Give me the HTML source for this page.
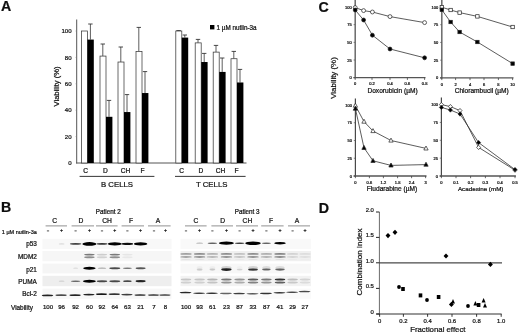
<!DOCTYPE html>
<html>
<head>
<meta charset="utf-8">
<title>Figure</title>
<style>
html, body { margin: 0; padding: 0; background: #ffffff; }
body { width: 520px; height: 335px; overflow: hidden; font-family: "Liberation Sans", sans-serif; }
svg { display: block; }
svg text { font-family: "Liberation Sans", sans-serif; fill: #111; stroke: #111; stroke-width: 0.22px; }
</style>
</head>
<body>
<svg width="520" height="335" viewBox="0 0 520 335">
<defs>
<filter id="bl" x="-30%" y="-100%" width="160%" height="300%"><feGaussianBlur stdDeviation="0.55"/></filter>
<filter id="bl2" x="-40%" y="-150%" width="180%" height="400%"><feGaussianBlur stdDeviation="0.65"/></filter>
<filter id="soft" x="0" y="0" width="520" height="335" filterUnits="userSpaceOnUse"><feGaussianBlur stdDeviation="0.35"/></filter>
</defs>
<rect x="0" y="0" width="520" height="335" fill="#ffffff"/>
<g filter="url(#soft)">
<g id="panelA">
<text x="0.9" y="11.0" font-size="14.2" text-anchor="start" font-weight="bold" stroke-width="0.45">A</text>
<line x1="76.7" y1="19.5" x2="76.7" y2="163.5" stroke="#444" stroke-width="0.9"/>
<line x1="76.2" y1="163.0" x2="246.5" y2="163.0" stroke="#444" stroke-width="0.9"/>
<line x1="75.6" y1="136.6" x2="76.7" y2="136.6" stroke="#777" stroke-width="0.6"/>
<line x1="75.6" y1="110.2" x2="76.7" y2="110.2" stroke="#777" stroke-width="0.6"/>
<line x1="75.6" y1="83.8" x2="76.7" y2="83.8" stroke="#777" stroke-width="0.6"/>
<line x1="75.6" y1="57.4" x2="76.7" y2="57.4" stroke="#777" stroke-width="0.6"/>
<line x1="75.6" y1="31.0" x2="76.7" y2="31.0" stroke="#777" stroke-width="0.6"/>
<text x="71.6" y="165.2" font-size="6.1" text-anchor="end" font-weight="normal" >0</text>
<text x="71.6" y="138.8" font-size="6.1" text-anchor="end" font-weight="normal" >20</text>
<text x="71.6" y="112.4" font-size="6.1" text-anchor="end" font-weight="normal" >40</text>
<text x="71.6" y="86.0" font-size="6.1" text-anchor="end" font-weight="normal" >60</text>
<text x="71.6" y="59.6" font-size="6.1" text-anchor="end" font-weight="normal" >80</text>
<text x="71.6" y="33.2" font-size="6.1" text-anchor="end" font-weight="normal" >100</text>
<text transform="translate(59,86.5) rotate(-90)" font-size="7.6" text-anchor="middle">Viability (%)</text>
<line x1="90.4" y1="24.0" x2="90.4" y2="39.58" stroke="#333" stroke-width="0.8"/>
<line x1="88.2" y1="24.0" x2="92.6" y2="24.0" stroke="#333" stroke-width="0.9"/>
<rect x="81.4" y="31.0" width="6.0" height="132.0" fill="#fff" stroke="#383838" stroke-width="0.75"/>
<rect x="87.4" y="39.58" width="6.4" height="123.42" fill="#000"/>
<line x1="102.8" y1="44.0" x2="102.8" y2="56.08" stroke="#333" stroke-width="0.8"/>
<line x1="100.6" y1="44.0" x2="105.0" y2="44.0" stroke="#333" stroke-width="0.9"/>
<line x1="109.0" y1="100.4" x2="109.0" y2="116.8" stroke="#333" stroke-width="0.8"/>
<line x1="106.8" y1="100.4" x2="111.2" y2="100.4" stroke="#333" stroke-width="0.9"/>
<rect x="100.0" y="56.08" width="6.0" height="106.92" fill="#fff" stroke="#383838" stroke-width="0.75"/>
<rect x="106.0" y="116.8" width="6.4" height="46.2" fill="#000"/>
<line x1="120.8" y1="47.0" x2="120.8" y2="62.02" stroke="#333" stroke-width="0.8"/>
<line x1="118.6" y1="47.0" x2="123.0" y2="47.0" stroke="#333" stroke-width="0.9"/>
<line x1="127.0" y1="94.6" x2="127.0" y2="112.05" stroke="#333" stroke-width="0.8"/>
<line x1="124.8" y1="94.6" x2="129.2" y2="94.6" stroke="#333" stroke-width="0.9"/>
<rect x="118.0" y="62.02" width="6.0" height="100.98" fill="#fff" stroke="#383838" stroke-width="0.75"/>
<rect x="124.0" y="112.05" width="6.4" height="50.95" fill="#000"/>
<line x1="138.8" y1="27.4" x2="138.8" y2="51.46" stroke="#333" stroke-width="0.8"/>
<line x1="136.6" y1="27.4" x2="141" y2="27.4" stroke="#333" stroke-width="0.9"/>
<line x1="145.0" y1="71.6" x2="145.0" y2="93.04" stroke="#333" stroke-width="0.8"/>
<line x1="142.8" y1="71.6" x2="147.2" y2="71.6" stroke="#333" stroke-width="0.9"/>
<rect x="136.0" y="51.46" width="6.0" height="111.54" fill="#fff" stroke="#383838" stroke-width="0.75"/>
<rect x="142.0" y="93.04" width="6.4" height="69.96" fill="#000"/>
<line x1="178.6" y1="30.6" x2="178.6" y2="31.0" stroke="#333" stroke-width="0.8"/>
<line x1="176.4" y1="30.6" x2="180.8" y2="30.6" stroke="#333" stroke-width="0.9"/>
<line x1="184.8" y1="35.0" x2="184.8" y2="37.6" stroke="#333" stroke-width="0.8"/>
<line x1="182.6" y1="35.0" x2="187.0" y2="35.0" stroke="#333" stroke-width="0.9"/>
<rect x="175.8" y="31.0" width="6.0" height="132.0" fill="#fff" stroke="#383838" stroke-width="0.75"/>
<rect x="181.8" y="37.6" width="6.4" height="125.4" fill="#000"/>
<line x1="198.0" y1="39.4" x2="198.0" y2="42.88" stroke="#333" stroke-width="0.8"/>
<line x1="195.8" y1="39.4" x2="200.2" y2="39.4" stroke="#333" stroke-width="0.9"/>
<line x1="204.2" y1="53.4" x2="204.2" y2="62.02" stroke="#333" stroke-width="0.8"/>
<line x1="202" y1="53.4" x2="206.4" y2="53.4" stroke="#333" stroke-width="0.9"/>
<rect x="195.2" y="42.88" width="6.0" height="120.12" fill="#fff" stroke="#383838" stroke-width="0.75"/>
<rect x="201.2" y="62.02" width="6.4" height="100.98" fill="#000"/>
<line x1="216.0" y1="45.4" x2="216.0" y2="52.12" stroke="#333" stroke-width="0.8"/>
<line x1="213.8" y1="45.4" x2="218.2" y2="45.4" stroke="#333" stroke-width="0.9"/>
<line x1="222.2" y1="58.0" x2="222.2" y2="71.92" stroke="#333" stroke-width="0.8"/>
<line x1="220" y1="58.0" x2="224.4" y2="58.0" stroke="#333" stroke-width="0.9"/>
<rect x="213.2" y="52.12" width="6.0" height="110.88" fill="#fff" stroke="#383838" stroke-width="0.75"/>
<rect x="219.2" y="71.92" width="6.4" height="91.08" fill="#000"/>
<line x1="233.8" y1="51.4" x2="233.8" y2="58.72" stroke="#333" stroke-width="0.8"/>
<line x1="231.6" y1="51.4" x2="236" y2="51.4" stroke="#333" stroke-width="0.9"/>
<line x1="240.0" y1="69.4" x2="240.0" y2="82.48" stroke="#333" stroke-width="0.8"/>
<line x1="237.8" y1="69.4" x2="242.2" y2="69.4" stroke="#333" stroke-width="0.9"/>
<rect x="231.0" y="58.72" width="6.0" height="104.28" fill="#fff" stroke="#383838" stroke-width="0.75"/>
<rect x="237.0" y="82.48" width="6.4" height="80.52" fill="#000"/>
<text x="85.6" y="173.2" font-size="6.6" text-anchor="middle" font-weight="normal" >C</text>
<text x="105.4" y="173.2" font-size="6.6" text-anchor="middle" font-weight="normal" >D</text>
<text x="125.4" y="173.2" font-size="6.6" text-anchor="middle" font-weight="normal" >CH</text>
<text x="142.6" y="173.2" font-size="6.6" text-anchor="middle" font-weight="normal" >F</text>
<text x="181.6" y="173.2" font-size="6.6" text-anchor="middle" font-weight="normal" >C</text>
<text x="201" y="173.2" font-size="6.6" text-anchor="middle" font-weight="normal" >D</text>
<text x="220.6" y="173.2" font-size="6.6" text-anchor="middle" font-weight="normal" >CH</text>
<text x="236.6" y="173.2" font-size="6.6" text-anchor="middle" font-weight="normal" >F</text>
<line x1="79.6" y1="176.4" x2="154.4" y2="176.4" stroke="#222" stroke-width="0.9"/>
<line x1="175" y1="176.4" x2="245.6" y2="176.4" stroke="#222" stroke-width="0.9"/>
<text x="117" y="187.2" font-size="7.8" text-anchor="middle" font-weight="normal" stroke-width="0.35">B CELLS</text>
<text x="211.7" y="187.2" font-size="7.8" text-anchor="middle" font-weight="normal" stroke-width="0.35">T CELLS</text>
<rect x="210" y="25" width="4.4" height="4.4" fill="#000"/>
<text x="216.6" y="29.9" font-size="6.3" text-anchor="start" font-weight="normal" >1 µM nutlin-3a</text>
</g>
<g id="panelC">
<text x="318.4" y="11.5" font-size="14.2" text-anchor="start" font-weight="bold" stroke-width="0.45">C</text>
<text transform="translate(335.7,78) rotate(-90)" font-size="7.9" text-anchor="middle">Viability (%)</text>
<line x1="355.2" y1="0" x2="355.2" y2="78.3" stroke="#6a6a6a" stroke-width="1.5"/>
<line x1="353.4" y1="77.7" x2="425.5" y2="77.7" stroke="#555" stroke-width="1.3"/>
<line x1="353.6" y1="77.7" x2="355.2" y2="77.7" stroke="#555" stroke-width="0.7"/>
<text x="351.7" y="79.2" font-size="4.0" text-anchor="end" font-weight="normal" fill="#3a3a3a" stroke="none">0</text>
<line x1="353.6" y1="60.03" x2="355.2" y2="60.03" stroke="#555" stroke-width="0.7"/>
<text x="351.7" y="61.53" font-size="4.0" text-anchor="end" font-weight="normal" fill="#3a3a3a" stroke="none">25</text>
<line x1="353.6" y1="42.35" x2="355.2" y2="42.35" stroke="#555" stroke-width="0.7"/>
<text x="351.7" y="43.85" font-size="4.0" text-anchor="end" font-weight="normal" fill="#3a3a3a" stroke="none">50</text>
<line x1="353.6" y1="24.67" x2="355.2" y2="24.67" stroke="#555" stroke-width="0.7"/>
<text x="351.7" y="26.17" font-size="4.0" text-anchor="end" font-weight="normal" fill="#3a3a3a" stroke="none">75</text>
<line x1="353.6" y1="7.0" x2="355.2" y2="7.0" stroke="#555" stroke-width="0.7"/>
<text x="351.7" y="8.5" font-size="4.0" text-anchor="end" font-weight="normal" fill="#3a3a3a" stroke="none">100</text>
<line x1="355.2" y1="77.7" x2="355.2" y2="79.9" stroke="#444" stroke-width="0.8"/>
<text x="355.2" y="85.3" font-size="4.0" text-anchor="middle" font-weight="normal" fill="#3a3a3a" stroke="none">0</text>
<line x1="372" y1="77.7" x2="372" y2="79.9" stroke="#444" stroke-width="0.8"/>
<text x="372" y="85.3" font-size="4.0" text-anchor="middle" font-weight="normal" fill="#3a3a3a" stroke="none">0.2</text>
<line x1="390" y1="77.7" x2="390" y2="79.9" stroke="#444" stroke-width="0.8"/>
<text x="390" y="85.3" font-size="4.0" text-anchor="middle" font-weight="normal" fill="#3a3a3a" stroke="none">0.4</text>
<line x1="407.4" y1="77.7" x2="407.4" y2="79.9" stroke="#444" stroke-width="0.8"/>
<text x="407.4" y="85.3" font-size="4.0" text-anchor="middle" font-weight="normal" fill="#3a3a3a" stroke="none">0.6</text>
<line x1="424.6" y1="77.7" x2="424.6" y2="79.9" stroke="#444" stroke-width="0.8"/>
<text x="424.6" y="85.3" font-size="4.0" text-anchor="middle" font-weight="normal" fill="#3a3a3a" stroke="none">0.8</text>
<text x="392.6" y="93.1" font-size="6.6" text-anchor="middle" font-weight="normal" >Doxorubicin (µM)</text>
<path d="M355.2,7.6 L363.6,10.6 L372.4,12 L390,16.6 L424.6,22.6" fill="none" stroke="#333" stroke-width="0.8"/>
<path d="M355.2,10 L363.6,20 L372.4,35.2 L390,49 L424.6,57.8" fill="none" stroke="#333" stroke-width="0.8"/>
<circle cx="355.2" cy="7.6" r="1.95" fill="#fff" stroke="#222" stroke-width="0.7"/>
<circle cx="363.6" cy="10.6" r="1.95" fill="#fff" stroke="#222" stroke-width="0.7"/>
<circle cx="372.4" cy="12" r="1.95" fill="#fff" stroke="#222" stroke-width="0.7"/>
<circle cx="390" cy="16.6" r="1.95" fill="#fff" stroke="#222" stroke-width="0.7"/>
<circle cx="424.6" cy="22.6" r="1.95" fill="#fff" stroke="#222" stroke-width="0.7"/>
<circle cx="355.2" cy="10" r="1.95" fill="#000" stroke="#222" stroke-width="0.7"/>
<circle cx="363.6" cy="20" r="1.95" fill="#000" stroke="#222" stroke-width="0.7"/>
<circle cx="372.4" cy="35.2" r="1.95" fill="#000" stroke="#222" stroke-width="0.7"/>
<circle cx="390" cy="49" r="1.95" fill="#000" stroke="#222" stroke-width="0.7"/>
<circle cx="424.6" cy="57.8" r="1.95" fill="#000" stroke="#222" stroke-width="0.7"/>
<line x1="441.8" y1="0" x2="441.8" y2="78.5" stroke="#6a6a6a" stroke-width="1.5"/>
<line x1="440.0" y1="77.9" x2="513.5" y2="77.9" stroke="#555" stroke-width="1.3"/>
<line x1="440.2" y1="77.9" x2="441.8" y2="77.9" stroke="#555" stroke-width="0.7"/>
<text x="438.3" y="79.4" font-size="4.0" text-anchor="end" font-weight="normal" fill="#3a3a3a" stroke="none">0</text>
<line x1="440.2" y1="60.18" x2="441.8" y2="60.18" stroke="#555" stroke-width="0.7"/>
<text x="438.3" y="61.68" font-size="4.0" text-anchor="end" font-weight="normal" fill="#3a3a3a" stroke="none">25</text>
<line x1="440.2" y1="42.45" x2="441.8" y2="42.45" stroke="#555" stroke-width="0.7"/>
<text x="438.3" y="43.95" font-size="4.0" text-anchor="end" font-weight="normal" fill="#3a3a3a" stroke="none">50</text>
<line x1="440.2" y1="24.73" x2="441.8" y2="24.73" stroke="#555" stroke-width="0.7"/>
<text x="438.3" y="26.23" font-size="4.0" text-anchor="end" font-weight="normal" fill="#3a3a3a" stroke="none">75</text>
<line x1="440.2" y1="7.0" x2="441.8" y2="7.0" stroke="#555" stroke-width="0.7"/>
<text x="438.3" y="8.5" font-size="4.0" text-anchor="end" font-weight="normal" fill="#3a3a3a" stroke="none">100</text>
<line x1="441.8" y1="77.9" x2="441.8" y2="80.1" stroke="#444" stroke-width="0.8"/>
<text x="441.8" y="85.5" font-size="4.0" text-anchor="middle" font-weight="normal" fill="#3a3a3a" stroke="none">0</text>
<line x1="455.6" y1="77.9" x2="455.6" y2="80.1" stroke="#444" stroke-width="0.8"/>
<text x="455.6" y="85.5" font-size="4.0" text-anchor="middle" font-weight="normal" fill="#3a3a3a" stroke="none">2</text>
<line x1="470" y1="77.9" x2="470" y2="80.1" stroke="#444" stroke-width="0.8"/>
<text x="470" y="85.5" font-size="4.0" text-anchor="middle" font-weight="normal" fill="#3a3a3a" stroke="none">4</text>
<line x1="484" y1="77.9" x2="484" y2="80.1" stroke="#444" stroke-width="0.8"/>
<text x="484" y="85.5" font-size="4.0" text-anchor="middle" font-weight="normal" fill="#3a3a3a" stroke="none">6</text>
<line x1="498.4" y1="77.9" x2="498.4" y2="80.1" stroke="#444" stroke-width="0.8"/>
<text x="498.4" y="85.5" font-size="4.0" text-anchor="middle" font-weight="normal" fill="#3a3a3a" stroke="none">8</text>
<line x1="512.6" y1="77.9" x2="512.6" y2="80.1" stroke="#444" stroke-width="0.8"/>
<text x="512.6" y="85.5" font-size="4.0" text-anchor="middle" font-weight="normal" fill="#3a3a3a" stroke="none">10</text>
<text x="481.7" y="93.3" font-size="6.6" text-anchor="middle" font-weight="normal" >Chlorambucil (µM)</text>
<path d="M441.8,7.2 L450.6,10 L459.6,12.6 L477.4,16.4 L512.6,27" fill="none" stroke="#333" stroke-width="0.8"/>
<path d="M441.8,9.8 L450.6,22 L459.6,32 L477.4,42 L512.6,63.6" fill="none" stroke="#333" stroke-width="0.8"/>
<rect x="440.1" y="5.5" width="3.4" height="3.4" fill="#fff" stroke="#222" stroke-width="0.7"/>
<rect x="448.9" y="8.3" width="3.4" height="3.4" fill="#fff" stroke="#222" stroke-width="0.7"/>
<rect x="457.9" y="10.9" width="3.4" height="3.4" fill="#fff" stroke="#222" stroke-width="0.7"/>
<rect x="475.7" y="14.7" width="3.4" height="3.4" fill="#fff" stroke="#222" stroke-width="0.7"/>
<rect x="510.9" y="25.3" width="3.4" height="3.4" fill="#fff" stroke="#222" stroke-width="0.7"/>
<rect x="440.1" y="8.1" width="3.4" height="3.4" fill="#000" stroke="#222" stroke-width="0.7"/>
<rect x="448.9" y="20.3" width="3.4" height="3.4" fill="#000" stroke="#222" stroke-width="0.7"/>
<rect x="457.9" y="30.3" width="3.4" height="3.4" fill="#000" stroke="#222" stroke-width="0.7"/>
<rect x="475.7" y="40.3" width="3.4" height="3.4" fill="#000" stroke="#222" stroke-width="0.7"/>
<rect x="510.9" y="61.9" width="3.4" height="3.4" fill="#000" stroke="#222" stroke-width="0.7"/>
<line x1="355.4" y1="98.6" x2="355.4" y2="176.6" stroke="#484848" stroke-width="1.2"/>
<line x1="353.6" y1="176.0" x2="426.5" y2="176.0" stroke="#555" stroke-width="1.3"/>
<line x1="353.8" y1="176.0" x2="355.4" y2="176.0" stroke="#555" stroke-width="0.7"/>
<text x="351.9" y="177.5" font-size="4.0" text-anchor="end" font-weight="normal" fill="#3a3a3a" stroke="none">0</text>
<line x1="353.8" y1="158.25" x2="355.4" y2="158.25" stroke="#555" stroke-width="0.7"/>
<text x="351.9" y="159.75" font-size="4.0" text-anchor="end" font-weight="normal" fill="#3a3a3a" stroke="none">25</text>
<line x1="353.8" y1="140.5" x2="355.4" y2="140.5" stroke="#555" stroke-width="0.7"/>
<text x="351.9" y="142.0" font-size="4.0" text-anchor="end" font-weight="normal" fill="#3a3a3a" stroke="none">50</text>
<line x1="353.8" y1="122.75" x2="355.4" y2="122.75" stroke="#555" stroke-width="0.7"/>
<text x="351.9" y="124.25" font-size="4.0" text-anchor="end" font-weight="normal" fill="#3a3a3a" stroke="none">75</text>
<line x1="353.8" y1="105.0" x2="355.4" y2="105.0" stroke="#555" stroke-width="0.7"/>
<text x="351.9" y="106.5" font-size="4.0" text-anchor="end" font-weight="normal" fill="#3a3a3a" stroke="none">100</text>
<line x1="355.4" y1="176.0" x2="355.4" y2="178.2" stroke="#444" stroke-width="0.8"/>
<text x="355.4" y="183.6" font-size="4.0" text-anchor="middle" font-weight="normal" fill="#3a3a3a" stroke="none">0</text>
<line x1="369.4" y1="176.0" x2="369.4" y2="178.2" stroke="#444" stroke-width="0.8"/>
<text x="369.4" y="183.6" font-size="4.0" text-anchor="middle" font-weight="normal" fill="#3a3a3a" stroke="none">0.6</text>
<line x1="383.4" y1="176.0" x2="383.4" y2="178.2" stroke="#444" stroke-width="0.8"/>
<text x="383.4" y="183.6" font-size="4.0" text-anchor="middle" font-weight="normal" fill="#3a3a3a" stroke="none">1.2</text>
<line x1="397.6" y1="176.0" x2="397.6" y2="178.2" stroke="#444" stroke-width="0.8"/>
<text x="397.6" y="183.6" font-size="4.0" text-anchor="middle" font-weight="normal" fill="#3a3a3a" stroke="none">1.8</text>
<line x1="411.6" y1="176.0" x2="411.6" y2="178.2" stroke="#444" stroke-width="0.8"/>
<text x="411.6" y="183.6" font-size="4.0" text-anchor="middle" font-weight="normal" fill="#3a3a3a" stroke="none">2.4</text>
<line x1="425.6" y1="176.0" x2="425.6" y2="178.2" stroke="#444" stroke-width="0.8"/>
<text x="425.6" y="183.6" font-size="4.0" text-anchor="middle" font-weight="normal" fill="#3a3a3a" stroke="none">3</text>
<text x="392" y="191.4" font-size="6.6" text-anchor="middle" font-weight="normal" >Fludarabine (µM)</text>
<path d="M355.4,105.6 L364,121.6 L373,131 L391,140.5 L426,148.4" fill="none" stroke="#333" stroke-width="0.8"/>
<path d="M355.4,108.6 L364,147.8 L373,160.8 L391,165.4 L426,164.6" fill="none" stroke="#333" stroke-width="0.8"/>
<path d="M355.4,103.2 L357.55,107.2 L353.25,107.2 Z" fill="#fff" stroke="#222" stroke-width="0.7"/>
<path d="M364,119.2 L366.15,123.2 L361.85,123.2 Z" fill="#fff" stroke="#222" stroke-width="0.7"/>
<path d="M373,128.6 L375.15,132.6 L370.85,132.6 Z" fill="#fff" stroke="#222" stroke-width="0.7"/>
<path d="M391,138.1 L393.15,142.1 L388.85,142.1 Z" fill="#fff" stroke="#222" stroke-width="0.7"/>
<path d="M426,146.0 L428.15,150.0 L423.85,150.0 Z" fill="#fff" stroke="#222" stroke-width="0.7"/>
<path d="M355.4,106.2 L357.55,110.2 L353.25,110.2 Z" fill="#000" stroke="#222" stroke-width="0.7"/>
<path d="M364,145.4 L366.15,149.4 L361.85,149.4 Z" fill="#000" stroke="#222" stroke-width="0.7"/>
<path d="M373,158.4 L375.15,162.4 L370.85,162.4 Z" fill="#000" stroke="#222" stroke-width="0.7"/>
<path d="M391,163.0 L393.15,167.0 L388.85,167.0 Z" fill="#000" stroke="#222" stroke-width="0.7"/>
<path d="M426,162.2 L428.15,166.2 L423.85,166.2 Z" fill="#000" stroke="#222" stroke-width="0.7"/>
<line x1="441.4" y1="97.4" x2="441.4" y2="176.6" stroke="#484848" stroke-width="1.2"/>
<line x1="439.6" y1="176.0" x2="515.9" y2="176.0" stroke="#555" stroke-width="1.3"/>
<line x1="439.8" y1="176.0" x2="441.4" y2="176.0" stroke="#555" stroke-width="0.7"/>
<text x="437.9" y="177.5" font-size="4.0" text-anchor="end" font-weight="normal" fill="#3a3a3a" stroke="none">0</text>
<line x1="439.8" y1="158.15" x2="441.4" y2="158.15" stroke="#555" stroke-width="0.7"/>
<text x="437.9" y="159.65" font-size="4.0" text-anchor="end" font-weight="normal" fill="#3a3a3a" stroke="none">25</text>
<line x1="439.8" y1="140.3" x2="441.4" y2="140.3" stroke="#555" stroke-width="0.7"/>
<text x="437.9" y="141.8" font-size="4.0" text-anchor="end" font-weight="normal" fill="#3a3a3a" stroke="none">50</text>
<line x1="439.8" y1="122.45" x2="441.4" y2="122.45" stroke="#555" stroke-width="0.7"/>
<text x="437.9" y="123.95" font-size="4.0" text-anchor="end" font-weight="normal" fill="#3a3a3a" stroke="none">75</text>
<line x1="439.8" y1="104.6" x2="441.4" y2="104.6" stroke="#555" stroke-width="0.7"/>
<text x="437.9" y="106.1" font-size="4.0" text-anchor="end" font-weight="normal" fill="#3a3a3a" stroke="none">100</text>
<line x1="441.4" y1="176.0" x2="441.4" y2="178.2" stroke="#444" stroke-width="0.8"/>
<text x="441.4" y="183.6" font-size="4.0" text-anchor="middle" font-weight="normal" fill="#3a3a3a" stroke="none">0</text>
<line x1="456" y1="176.0" x2="456" y2="178.2" stroke="#444" stroke-width="0.8"/>
<text x="456" y="183.6" font-size="4.0" text-anchor="middle" font-weight="normal" fill="#3a3a3a" stroke="none">0.1</text>
<line x1="470.6" y1="176.0" x2="470.6" y2="178.2" stroke="#444" stroke-width="0.8"/>
<text x="470.6" y="183.6" font-size="4.0" text-anchor="middle" font-weight="normal" fill="#3a3a3a" stroke="none">0.2</text>
<line x1="485.4" y1="176.0" x2="485.4" y2="178.2" stroke="#444" stroke-width="0.8"/>
<text x="485.4" y="183.6" font-size="4.0" text-anchor="middle" font-weight="normal" fill="#3a3a3a" stroke="none">0.3</text>
<line x1="500" y1="176.0" x2="500" y2="178.2" stroke="#444" stroke-width="0.8"/>
<text x="500" y="183.6" font-size="4.0" text-anchor="middle" font-weight="normal" fill="#3a3a3a" stroke="none">0.4</text>
<line x1="515" y1="176.0" x2="515" y2="178.2" stroke="#444" stroke-width="0.8"/>
<text x="515" y="183.6" font-size="4.0" text-anchor="middle" font-weight="normal" fill="#3a3a3a" stroke="none">0.5</text>
<text x="480.7" y="191.4" font-size="6.25" text-anchor="middle" font-weight="normal" >Acadesine (mM)</text>
<path d="M441.4,104.6 L450.4,106.6 L460,110.6 L478.6,147.4 L515,170.2" fill="none" stroke="#333" stroke-width="0.8"/>
<path d="M441.4,107.4 L450.4,110 L460,114 L478.6,142.6 L515,169.6" fill="none" stroke="#333" stroke-width="0.8"/>
<path d="M441.4,102.45 L443.4,104.6 L441.4,106.75 L439.4,104.6 Z" fill="#fff" stroke="#222" stroke-width="0.7"/>
<path d="M450.4,104.45 L452.4,106.6 L450.4,108.75 L448.4,106.6 Z" fill="#fff" stroke="#222" stroke-width="0.7"/>
<path d="M460,108.45 L462.0,110.6 L460,112.75 L458.0,110.6 Z" fill="#fff" stroke="#222" stroke-width="0.7"/>
<path d="M478.6,145.25 L480.6,147.4 L478.6,149.55 L476.6,147.4 Z" fill="#fff" stroke="#222" stroke-width="0.7"/>
<path d="M515,168.05 L517.0,170.2 L515,172.35 L513.0,170.2 Z" fill="#fff" stroke="#222" stroke-width="0.7"/>
<path d="M441.4,105.25 L443.4,107.4 L441.4,109.55 L439.4,107.4 Z" fill="#000" stroke="#222" stroke-width="0.7"/>
<path d="M450.4,107.85 L452.4,110 L450.4,112.15 L448.4,110 Z" fill="#000" stroke="#222" stroke-width="0.7"/>
<path d="M460,111.85 L462.0,114 L460,116.15 L458.0,114 Z" fill="#000" stroke="#222" stroke-width="0.7"/>
<path d="M478.6,140.45 L480.6,142.6 L478.6,144.75 L476.6,142.6 Z" fill="#000" stroke="#222" stroke-width="0.7"/>
<path d="M515,167.45 L517.0,169.6 L515,171.75 L513.0,169.6 Z" fill="#000" stroke="#222" stroke-width="0.7"/>
</g>
<g id="panelD">
<text x="318.8" y="213.4" font-size="14.2" text-anchor="start" font-weight="bold" stroke-width="0.45">D</text>
<line x1="379.4" y1="212" x2="379.4" y2="314.5" stroke="#505050" stroke-width="0.85"/>
<line x1="376.4" y1="314.0" x2="501.6" y2="314.0" stroke="#333" stroke-width="1.2"/>
<line x1="379.4" y1="262.8" x2="502" y2="262.8" stroke="#4a4a4a" stroke-width="1.15"/>
<line x1="376.0" y1="212" x2="379.4" y2="212" stroke="#222" stroke-width="1.0"/>
<text x="373.9" y="211.8" font-size="5.9" text-anchor="end" font-weight="normal" stroke-width="0.32">2.0</text>
<line x1="376.0" y1="237.4" x2="379.4" y2="237.4" stroke="#222" stroke-width="1.0"/>
<text x="373.9" y="237.2" font-size="5.9" text-anchor="end" font-weight="normal" stroke-width="0.32">1.5</text>
<line x1="376.0" y1="262.8" x2="379.4" y2="262.8" stroke="#222" stroke-width="1.0"/>
<text x="373.9" y="262.6" font-size="5.9" text-anchor="end" font-weight="normal" stroke-width="0.32">1.0</text>
<line x1="376.0" y1="288.4" x2="379.4" y2="288.4" stroke="#222" stroke-width="1.0"/>
<text x="373.9" y="288.2" font-size="5.9" text-anchor="end" font-weight="normal" stroke-width="0.32">0.5</text>
<line x1="376.0" y1="314" x2="379.4" y2="314" stroke="#222" stroke-width="1.0"/>
<text x="373.9" y="313.8" font-size="5.9" text-anchor="end" font-weight="normal" stroke-width="0.32">0</text>
<line x1="379.6" y1="314.0" x2="379.6" y2="316.8" stroke="#222" stroke-width="0.9"/>
<text x="379.6" y="322.9" font-size="5.9" text-anchor="middle" font-weight="normal" stroke-width="0.32">0</text>
<line x1="403.4" y1="314.0" x2="403.4" y2="316.8" stroke="#222" stroke-width="0.9"/>
<text x="403.4" y="322.9" font-size="5.9" text-anchor="middle" font-weight="normal" stroke-width="0.32">0.2</text>
<line x1="427.6" y1="314.0" x2="427.6" y2="316.8" stroke="#222" stroke-width="0.9"/>
<text x="427.6" y="322.9" font-size="5.9" text-anchor="middle" font-weight="normal" stroke-width="0.32">0.4</text>
<line x1="452" y1="314.0" x2="452" y2="316.8" stroke="#222" stroke-width="0.9"/>
<text x="452" y="322.9" font-size="5.9" text-anchor="middle" font-weight="normal" stroke-width="0.32">0.6</text>
<line x1="476.6" y1="314.0" x2="476.6" y2="316.8" stroke="#222" stroke-width="0.9"/>
<text x="476.6" y="322.9" font-size="5.9" text-anchor="middle" font-weight="normal" stroke-width="0.32">0.8</text>
<line x1="501.2" y1="314.0" x2="501.2" y2="316.8" stroke="#222" stroke-width="0.9"/>
<text x="501.2" y="322.9" font-size="5.9" text-anchor="middle" font-weight="normal" stroke-width="0.32">1.0</text>
<text x="437.8" y="332.3" font-size="7.8" text-anchor="middle" font-weight="normal" >Fractional effect</text>
<text transform="translate(362.0,262) rotate(-90)" font-size="8.05" text-anchor="middle">Combination Index</text>
<path d="M388,233.0 L390.45,235.6 L388,238.2 L385.55,235.6 Z" fill="#000"/>
<path d="M395,229.7 L397.45,232.3 L395,234.9 L392.55,232.3 Z" fill="#000"/>
<path d="M446,253.4 L448.45,256 L446,258.6 L443.55,256 Z" fill="#000"/>
<path d="M490.4,261.8 L492.85,264.4 L490.4,267.0 L487.95,264.4 Z" fill="#000"/>
<circle cx="399" cy="287" r="1.9" fill="#000"/>
<rect x="401.2" y="287" width="3.6" height="4" fill="#000"/>
<rect x="418.7" y="293.4" width="3.6" height="4" fill="#000"/>
<circle cx="427" cy="300" r="1.9" fill="#000"/>
<rect x="436.8" y="295" width="3.6" height="4" fill="#000"/>
<path d="M451.4,301.8 L453.85,304.4 L451.4,307.0 L448.95,304.4 Z" fill="#000"/>
<path d="M453,299.0 L455,303.6 L451,303.6 Z" fill="#000"/>
<circle cx="468" cy="306" r="1.9" fill="#000"/>
<path d="M475.4,301.0 L477.4,305.6 L473.4,305.6 Z" fill="#000"/>
<rect x="476.8" y="303" width="3.6" height="4" fill="#000"/>
<path d="M483.6,298.0 L485.6,302.6 L481.6,302.6 Z" fill="#000"/>
<path d="M485,303.0 L487,307.6 L483,307.6 Z" fill="#000"/>
</g>
<g id="panelB">
<text x="1.0" y="212.2" font-size="14.2" text-anchor="start" font-weight="bold" stroke-width="0.45">B</text>
<text x="108.3" y="213.7" font-size="6.3" text-anchor="middle" font-weight="normal" >Patient 2</text>
<text x="247.2" y="213.7" font-size="6.3" text-anchor="middle" font-weight="normal" >Patient 3</text>
<text x="1.8" y="233.8" font-size="5.5" text-anchor="start" font-weight="normal" >1 µM nutlin-3a</text>
<text x="36.8" y="246.4" font-size="6.4" text-anchor="end" font-weight="normal" >p53</text>
<text x="36.8" y="258.8" font-size="6.4" text-anchor="end" font-weight="normal" >MDM2</text>
<text x="36.8" y="271.6" font-size="6.4" text-anchor="end" font-weight="normal" >p21</text>
<text x="36.8" y="283.6" font-size="6.4" text-anchor="end" font-weight="normal" >PUMA</text>
<text x="36.8" y="295.8" font-size="6.4" text-anchor="end" font-weight="normal" >Bcl-2</text>
<text x="11" y="309.6" font-size="6.4" text-anchor="start" font-weight="normal" >Viability</text>
<text x="48" y="309.3" font-size="6.1" text-anchor="middle" font-weight="normal" >100</text>
<line x1="46.9" y1="230.9" x2="49.1" y2="230.9" stroke="#222" stroke-width="0.8"/>
<text x="61.6" y="309.3" font-size="6.1" text-anchor="middle" font-weight="normal" >96</text>
<text x="61.6" y="231.9" font-size="5.2" text-anchor="middle" font-weight="normal" >+</text>
<text x="75.6" y="309.3" font-size="6.1" text-anchor="middle" font-weight="normal" >92</text>
<line x1="74.5" y1="230.9" x2="76.7" y2="230.9" stroke="#222" stroke-width="0.8"/>
<text x="89.4" y="309.3" font-size="6.1" text-anchor="middle" font-weight="normal" >60</text>
<text x="89.4" y="231.9" font-size="5.2" text-anchor="middle" font-weight="normal" >+</text>
<text x="102" y="309.3" font-size="6.1" text-anchor="middle" font-weight="normal" >92</text>
<line x1="100.9" y1="230.9" x2="103.1" y2="230.9" stroke="#222" stroke-width="0.8"/>
<text x="114.8" y="309.3" font-size="6.1" text-anchor="middle" font-weight="normal" >64</text>
<text x="114.8" y="231.9" font-size="5.2" text-anchor="middle" font-weight="normal" >+</text>
<text x="127.4" y="309.3" font-size="6.1" text-anchor="middle" font-weight="normal" >63</text>
<line x1="126.3" y1="230.9" x2="128.5" y2="230.9" stroke="#222" stroke-width="0.8"/>
<text x="140.6" y="309.3" font-size="6.1" text-anchor="middle" font-weight="normal" >21</text>
<text x="140.6" y="231.9" font-size="5.2" text-anchor="middle" font-weight="normal" >+</text>
<text x="154" y="309.3" font-size="6.1" text-anchor="middle" font-weight="normal" >7</text>
<line x1="152.9" y1="230.9" x2="155.1" y2="230.9" stroke="#222" stroke-width="0.8"/>
<text x="165.4" y="309.3" font-size="6.1" text-anchor="middle" font-weight="normal" >8</text>
<text x="165.4" y="231.9" font-size="5.2" text-anchor="middle" font-weight="normal" >+</text>
<text x="186" y="309.3" font-size="6.1" text-anchor="middle" font-weight="normal" >100</text>
<line x1="184.9" y1="230.9" x2="187.1" y2="230.9" stroke="#222" stroke-width="0.8"/>
<text x="199.6" y="309.3" font-size="6.1" text-anchor="middle" font-weight="normal" >93</text>
<text x="199.6" y="231.9" font-size="5.2" text-anchor="middle" font-weight="normal" >+</text>
<text x="212.4" y="309.3" font-size="6.1" text-anchor="middle" font-weight="normal" >61</text>
<line x1="211.3" y1="230.9" x2="213.5" y2="230.9" stroke="#222" stroke-width="0.8"/>
<text x="226.4" y="309.3" font-size="6.1" text-anchor="middle" font-weight="normal" >23</text>
<text x="226.4" y="231.9" font-size="5.2" text-anchor="middle" font-weight="normal" >+</text>
<text x="239.6" y="309.3" font-size="6.1" text-anchor="middle" font-weight="normal" >87</text>
<line x1="238.5" y1="230.9" x2="240.7" y2="230.9" stroke="#222" stroke-width="0.8"/>
<text x="253" y="309.3" font-size="6.1" text-anchor="middle" font-weight="normal" >33</text>
<text x="253" y="231.9" font-size="5.2" text-anchor="middle" font-weight="normal" >+</text>
<text x="266.4" y="309.3" font-size="6.1" text-anchor="middle" font-weight="normal" >87</text>
<line x1="265.3" y1="230.9" x2="267.5" y2="230.9" stroke="#222" stroke-width="0.8"/>
<text x="280" y="309.3" font-size="6.1" text-anchor="middle" font-weight="normal" >41</text>
<text x="280" y="231.9" font-size="5.2" text-anchor="middle" font-weight="normal" >+</text>
<text x="292.6" y="309.3" font-size="6.1" text-anchor="middle" font-weight="normal" >29</text>
<line x1="291.5" y1="230.9" x2="293.7" y2="230.9" stroke="#222" stroke-width="0.8"/>
<text x="305" y="309.3" font-size="6.1" text-anchor="middle" font-weight="normal" >27</text>
<text x="305" y="231.9" font-size="5.2" text-anchor="middle" font-weight="normal" >+</text>
<text x="54.6" y="223.1" font-size="6.7" text-anchor="middle" font-weight="normal" >C</text>
<text x="81" y="223.1" font-size="6.7" text-anchor="middle" font-weight="normal" >D</text>
<text x="107" y="223.1" font-size="6.7" text-anchor="middle" font-weight="normal" >CH</text>
<text x="131" y="223.1" font-size="6.7" text-anchor="middle" font-weight="normal" >F</text>
<text x="158" y="223.1" font-size="6.7" text-anchor="middle" font-weight="normal" >A</text>
<text x="196" y="223.1" font-size="6.7" text-anchor="middle" font-weight="normal" >C</text>
<text x="222.6" y="223.1" font-size="6.7" text-anchor="middle" font-weight="normal" >D</text>
<text x="247.4" y="223.1" font-size="6.7" text-anchor="middle" font-weight="normal" >CH</text>
<text x="271" y="223.1" font-size="6.7" text-anchor="middle" font-weight="normal" >F</text>
<text x="297" y="223.1" font-size="6.7" text-anchor="middle" font-weight="normal" >A</text>
<line x1="45.6" y1="225.9" x2="67" y2="225.9" stroke="#555" stroke-width="0.65"/>
<line x1="71.6" y1="225.9" x2="94" y2="225.9" stroke="#555" stroke-width="0.65"/>
<line x1="96" y1="225.9" x2="117.6" y2="225.9" stroke="#555" stroke-width="0.65"/>
<line x1="121.6" y1="225.9" x2="144" y2="225.9" stroke="#555" stroke-width="0.65"/>
<line x1="148" y1="225.9" x2="170.6" y2="225.9" stroke="#555" stroke-width="0.65"/>
<line x1="185" y1="225.9" x2="206.6" y2="225.9" stroke="#555" stroke-width="0.65"/>
<line x1="211.4" y1="225.9" x2="233" y2="225.9" stroke="#555" stroke-width="0.65"/>
<line x1="236" y1="225.9" x2="258" y2="225.9" stroke="#555" stroke-width="0.65"/>
<line x1="261.2" y1="225.9" x2="283.6" y2="225.9" stroke="#555" stroke-width="0.65"/>
<line x1="288" y1="225.9" x2="310" y2="225.9" stroke="#555" stroke-width="0.65"/>
<rect x="42.5" y="238.8" width="129" height="10.2" fill="#f8f8f8"/>
<rect x="180.5" y="238.8" width="130.5" height="10.2" fill="#f9f9f9"/>
<rect x="42.5" y="251.0" width="129" height="10.2" fill="#f6f6f6"/>
<rect x="180.5" y="251.0" width="130.5" height="10.2" fill="#f0f0f0"/>
<rect x="42.5" y="263.6" width="129" height="9.8" fill="#f5f5f5"/>
<rect x="180.5" y="263.6" width="130.5" height="9.8" fill="#f7f7f7"/>
<rect x="42.5" y="275.8" width="129" height="10.4" fill="#eeeeee"/>
<rect x="180.5" y="275.8" width="130.5" height="10.4" fill="#f2f2f2"/>
<rect x="42.5" y="288.6" width="129" height="10.2" fill="#f7f7f7"/>
<rect x="180.5" y="288.6" width="130.5" height="10.2" fill="#fafafa"/>
<ellipse cx="61.6" cy="243.9" rx="3.0" ry="0.6" fill="#000" opacity="0.12" filter="url(#bl)"/>
<ellipse cx="75.6" cy="243.9" rx="5.75" ry="0.8" fill="#000" opacity="0.75" filter="url(#bl)"/>
<ellipse cx="89.4" cy="243.9" rx="7.0" ry="1.8" fill="#000" opacity="1.0" filter="url(#bl)"/>
<ellipse cx="102" cy="243.9" rx="5.5" ry="0.8" fill="#000" opacity="0.8" filter="url(#bl)"/>
<ellipse cx="114.8" cy="243.9" rx="7.0" ry="1.6" fill="#000" opacity="1.0" filter="url(#bl)"/>
<ellipse cx="127.4" cy="243.9" rx="5.75" ry="1.1" fill="#000" opacity="0.95" filter="url(#bl)"/>
<ellipse cx="140.6" cy="243.9" rx="6.75" ry="1.6" fill="#000" opacity="1.0" filter="url(#bl)"/>
<ellipse cx="75.6" cy="268.2" rx="2.5" ry="0.6" fill="#000" opacity="0.1" filter="url(#bl)"/>
<ellipse cx="89.4" cy="268.2" rx="6.25" ry="1.5" fill="#000" opacity="1.0" filter="url(#bl)"/>
<ellipse cx="102" cy="268.2" rx="4.25" ry="0.6" fill="#000" opacity="0.3" filter="url(#bl)"/>
<ellipse cx="114.8" cy="268.2" rx="5.5" ry="1.0" fill="#000" opacity="0.7" filter="url(#bl)"/>
<ellipse cx="127.4" cy="268.2" rx="4.5" ry="0.8" fill="#000" opacity="0.5" filter="url(#bl)"/>
<ellipse cx="140.6" cy="268.2" rx="5.0" ry="1.0" fill="#000" opacity="0.65" filter="url(#bl)"/>
<ellipse cx="61.6" cy="281.2" rx="3.0" ry="0.6" fill="#000" opacity="0.12" filter="url(#bl)"/>
<ellipse cx="75.6" cy="281.2" rx="4.75" ry="0.8" fill="#000" opacity="0.55" filter="url(#bl)"/>
<ellipse cx="89.4" cy="281.2" rx="6.5" ry="1.5" fill="#000" opacity="1.0" filter="url(#bl)"/>
<ellipse cx="102" cy="281.2" rx="5.25" ry="1.0" fill="#000" opacity="0.7" filter="url(#bl)"/>
<ellipse cx="114.8" cy="281.2" rx="5.5" ry="1.0" fill="#000" opacity="0.7" filter="url(#bl)"/>
<ellipse cx="127.4" cy="281.2" rx="4.25" ry="0.9" fill="#000" opacity="0.7" filter="url(#bl)"/>
<ellipse cx="140.6" cy="281.2" rx="5.0" ry="1.1" fill="#000" opacity="0.85" filter="url(#bl)"/>
<ellipse cx="89.4" cy="254.6" rx="5.25" ry="0.95" fill="#000" opacity="0.5" filter="url(#bl2)"/>
<ellipse cx="89.4" cy="257.2" rx="5.25" ry="0.95" fill="#000" opacity="0.42" filter="url(#bl2)"/>
<ellipse cx="102" cy="254.6" rx="5.25" ry="0.95" fill="#000" opacity="0.16" filter="url(#bl2)"/>
<ellipse cx="102" cy="257.2" rx="5.25" ry="0.95" fill="#000" opacity="0.14" filter="url(#bl2)"/>
<ellipse cx="114.8" cy="254.6" rx="5.25" ry="0.95" fill="#000" opacity="0.5" filter="url(#bl2)"/>
<ellipse cx="114.8" cy="257.2" rx="5.25" ry="0.95" fill="#000" opacity="0.42" filter="url(#bl2)"/>
<ellipse cx="127.4" cy="254.6" rx="5.25" ry="0.95" fill="#000" opacity="0.06" filter="url(#bl2)"/>
<ellipse cx="127.4" cy="257.2" rx="5.25" ry="0.95" fill="#000" opacity="0.05" filter="url(#bl2)"/>
<ellipse cx="47.5" cy="295.4" rx="5.75" ry="0.85" fill="#000" opacity="0.85" filter="url(#bl)"/>
<ellipse cx="61.1" cy="295.2" rx="5.75" ry="0.85" fill="#000" opacity="0.7" filter="url(#bl)"/>
<ellipse cx="75.1" cy="295.2" rx="5.75" ry="0.85" fill="#000" opacity="0.85" filter="url(#bl)"/>
<ellipse cx="88.9" cy="294.6" rx="5.75" ry="0.85" fill="#000" opacity="0.85" filter="url(#bl)"/>
<ellipse cx="101.5" cy="294.2" rx="5.75" ry="0.85" fill="#000" opacity="0.9" filter="url(#bl)"/>
<ellipse cx="114.3" cy="294.2" rx="5.75" ry="0.85" fill="#000" opacity="0.8" filter="url(#bl)"/>
<ellipse cx="126.9" cy="294.6" rx="5.75" ry="0.85" fill="#000" opacity="0.75" filter="url(#bl)"/>
<ellipse cx="140.1" cy="295.0" rx="5.75" ry="0.85" fill="#000" opacity="0.85" filter="url(#bl)"/>
<ellipse cx="153.5" cy="295.0" rx="5.75" ry="0.85" fill="#000" opacity="0.8" filter="url(#bl)"/>
<ellipse cx="164.9" cy="295.0" rx="5.75" ry="0.85" fill="#000" opacity="0.75" filter="url(#bl)"/>
<ellipse cx="199.6" cy="243.2" rx="3.5" ry="0.6" fill="#000" opacity="0.25" filter="url(#bl)"/>
<ellipse cx="212.4" cy="243.2" rx="4.75" ry="0.7" fill="#000" opacity="0.6" filter="url(#bl)"/>
<ellipse cx="226.4" cy="243.2" rx="7.5" ry="1.6" fill="#000" opacity="1.0" filter="url(#bl)"/>
<ellipse cx="239.6" cy="243.2" rx="4.75" ry="0.8" fill="#000" opacity="0.75" filter="url(#bl)"/>
<ellipse cx="253" cy="243.2" rx="7.75" ry="1.7" fill="#000" opacity="1.0" filter="url(#bl)"/>
<ellipse cx="266.4" cy="243.2" rx="4.5" ry="0.7" fill="#000" opacity="0.6" filter="url(#bl)"/>
<ellipse cx="280" cy="243.2" rx="5.75" ry="1.2" fill="#000" opacity="1.0" filter="url(#bl)"/>
<ellipse cx="199.6" cy="268.0" rx="3.0" ry="2.0" fill="#000" opacity="0.03" filter="url(#bl2)"/>
<ellipse cx="199.6" cy="269.6" rx="3.0" ry="1.2" fill="#000" opacity="0.14" filter="url(#bl)"/>
<ellipse cx="212.4" cy="268.0" rx="3.0" ry="2.0" fill="#000" opacity="0.03" filter="url(#bl2)"/>
<ellipse cx="212.4" cy="269.6" rx="3.0" ry="1.1" fill="#000" opacity="0.16" filter="url(#bl)"/>
<ellipse cx="226.4" cy="268.0" rx="5.25" ry="2.0" fill="#000" opacity="0.15" filter="url(#bl2)"/>
<ellipse cx="226.4" cy="269.6" rx="5.25" ry="1.4" fill="#000" opacity="0.85" filter="url(#bl)"/>
<ellipse cx="239.6" cy="268.0" rx="3.0" ry="2.0" fill="#000" opacity="0.02" filter="url(#bl2)"/>
<ellipse cx="239.6" cy="269.6" rx="3.0" ry="0.9" fill="#000" opacity="0.12" filter="url(#bl)"/>
<ellipse cx="253" cy="268.0" rx="5.0" ry="2.0" fill="#000" opacity="0.14" filter="url(#bl2)"/>
<ellipse cx="253" cy="269.6" rx="5.0" ry="1.2" fill="#000" opacity="0.75" filter="url(#bl)"/>
<ellipse cx="266.4" cy="268.0" rx="4.25" ry="2.0" fill="#000" opacity="0.1" filter="url(#bl2)"/>
<ellipse cx="266.4" cy="269.6" rx="4.25" ry="1.0" fill="#000" opacity="0.55" filter="url(#bl)"/>
<ellipse cx="280" cy="268.0" rx="4.75" ry="2.0" fill="#000" opacity="0.1" filter="url(#bl2)"/>
<ellipse cx="280" cy="269.6" rx="4.75" ry="1.1" fill="#000" opacity="0.55" filter="url(#bl)"/>
<ellipse cx="186" cy="253.9" rx="5.75" ry="0.95" fill="#000" opacity="0.34" filter="url(#bl2)"/>
<ellipse cx="186" cy="256.9" rx="5.75" ry="1.0" fill="#000" opacity="0.31" filter="url(#bl2)"/>
<ellipse cx="186" cy="259.6" rx="5.0" ry="0.5" fill="#000" opacity="0.05" filter="url(#bl2)"/>
<ellipse cx="199.6" cy="253.9" rx="5.75" ry="0.95" fill="#000" opacity="0.42" filter="url(#bl2)"/>
<ellipse cx="199.6" cy="256.9" rx="5.75" ry="1.0" fill="#000" opacity="0.38" filter="url(#bl2)"/>
<ellipse cx="199.6" cy="259.6" rx="5.0" ry="0.5" fill="#000" opacity="0.06" filter="url(#bl2)"/>
<ellipse cx="212.4" cy="253.9" rx="5.75" ry="0.95" fill="#000" opacity="0.26" filter="url(#bl2)"/>
<ellipse cx="212.4" cy="256.9" rx="5.75" ry="1.0" fill="#000" opacity="0.23" filter="url(#bl2)"/>
<ellipse cx="212.4" cy="259.6" rx="5.0" ry="0.5" fill="#000" opacity="0.04" filter="url(#bl2)"/>
<ellipse cx="226.4" cy="253.9" rx="5.75" ry="0.95" fill="#000" opacity="0.42" filter="url(#bl2)"/>
<ellipse cx="226.4" cy="256.9" rx="5.75" ry="1.0" fill="#000" opacity="0.38" filter="url(#bl2)"/>
<ellipse cx="226.4" cy="259.6" rx="5.0" ry="0.5" fill="#000" opacity="0.06" filter="url(#bl2)"/>
<ellipse cx="239.6" cy="253.9" rx="5.75" ry="0.95" fill="#000" opacity="0.2" filter="url(#bl2)"/>
<ellipse cx="239.6" cy="256.9" rx="5.75" ry="1.0" fill="#000" opacity="0.18" filter="url(#bl2)"/>
<ellipse cx="239.6" cy="259.6" rx="5.0" ry="0.5" fill="#000" opacity="0.03" filter="url(#bl2)"/>
<ellipse cx="253" cy="253.9" rx="5.75" ry="0.95" fill="#000" opacity="0.42" filter="url(#bl2)"/>
<ellipse cx="253" cy="256.9" rx="5.75" ry="1.0" fill="#000" opacity="0.38" filter="url(#bl2)"/>
<ellipse cx="253" cy="259.6" rx="5.0" ry="0.5" fill="#000" opacity="0.06" filter="url(#bl2)"/>
<ellipse cx="266.4" cy="253.9" rx="5.75" ry="0.95" fill="#000" opacity="0.28" filter="url(#bl2)"/>
<ellipse cx="266.4" cy="256.9" rx="5.75" ry="1.0" fill="#000" opacity="0.25" filter="url(#bl2)"/>
<ellipse cx="266.4" cy="259.6" rx="5.0" ry="0.5" fill="#000" opacity="0.04" filter="url(#bl2)"/>
<ellipse cx="280" cy="253.9" rx="5.75" ry="0.95" fill="#000" opacity="0.46" filter="url(#bl2)"/>
<ellipse cx="280" cy="256.9" rx="5.75" ry="1.0" fill="#000" opacity="0.41" filter="url(#bl2)"/>
<ellipse cx="280" cy="259.6" rx="5.0" ry="0.5" fill="#000" opacity="0.07" filter="url(#bl2)"/>
<ellipse cx="292.6" cy="253.9" rx="5.75" ry="0.95" fill="#000" opacity="0.12" filter="url(#bl2)"/>
<ellipse cx="292.6" cy="256.9" rx="5.75" ry="1.0" fill="#000" opacity="0.11" filter="url(#bl2)"/>
<ellipse cx="292.6" cy="259.6" rx="5.0" ry="0.5" fill="#000" opacity="0.02" filter="url(#bl2)"/>
<ellipse cx="305" cy="253.9" rx="5.75" ry="0.95" fill="#000" opacity="0.08" filter="url(#bl2)"/>
<ellipse cx="305" cy="256.9" rx="5.75" ry="1.0" fill="#000" opacity="0.07" filter="url(#bl2)"/>
<ellipse cx="305" cy="259.6" rx="5.0" ry="0.5" fill="#000" opacity="0.01" filter="url(#bl2)"/>
<ellipse cx="186" cy="279.6" rx="5.25" ry="1.0" fill="#000" opacity="0.18" filter="url(#bl2)"/>
<ellipse cx="186" cy="282.4" rx="5.25" ry="1.0" fill="#000" opacity="0.14" filter="url(#bl2)"/>
<ellipse cx="199.6" cy="279.6" rx="5.25" ry="1.0" fill="#000" opacity="0.18" filter="url(#bl2)"/>
<ellipse cx="199.6" cy="282.4" rx="5.25" ry="1.0" fill="#000" opacity="0.14" filter="url(#bl2)"/>
<ellipse cx="212.4" cy="279.6" rx="5.25" ry="1.0" fill="#000" opacity="0.25" filter="url(#bl2)"/>
<ellipse cx="212.4" cy="282.4" rx="5.25" ry="1.0" fill="#000" opacity="0.19" filter="url(#bl2)"/>
<ellipse cx="226.4" cy="279.6" rx="5.25" ry="1.0" fill="#000" opacity="0.5" filter="url(#bl)"/>
<ellipse cx="226.4" cy="282.4" rx="5.25" ry="1.0" fill="#000" opacity="0.38" filter="url(#bl)"/>
<ellipse cx="239.6" cy="279.6" rx="5.25" ry="1.0" fill="#000" opacity="0.38" filter="url(#bl)"/>
<ellipse cx="239.6" cy="282.4" rx="5.25" ry="1.0" fill="#000" opacity="0.29" filter="url(#bl)"/>
<ellipse cx="253" cy="279.6" rx="5.25" ry="1.0" fill="#000" opacity="0.62" filter="url(#bl)"/>
<ellipse cx="253" cy="282.4" rx="5.25" ry="1.0" fill="#000" opacity="0.46" filter="url(#bl)"/>
<ellipse cx="266.4" cy="279.6" rx="5.25" ry="1.0" fill="#000" opacity="0.5" filter="url(#bl)"/>
<ellipse cx="266.4" cy="282.4" rx="5.25" ry="1.0" fill="#000" opacity="0.38" filter="url(#bl)"/>
<ellipse cx="280" cy="279.6" rx="5.25" ry="1.0" fill="#000" opacity="0.8" filter="url(#bl)"/>
<ellipse cx="280" cy="282.4" rx="5.25" ry="1.0" fill="#000" opacity="0.6" filter="url(#bl)"/>
<ellipse cx="292.6" cy="279.6" rx="5.25" ry="1.0" fill="#000" opacity="0.22" filter="url(#bl2)"/>
<ellipse cx="292.6" cy="282.4" rx="5.25" ry="1.0" fill="#000" opacity="0.17" filter="url(#bl2)"/>
<ellipse cx="305" cy="279.6" rx="5.25" ry="1.0" fill="#000" opacity="0.12" filter="url(#bl2)"/>
<ellipse cx="305" cy="282.4" rx="5.25" ry="1.0" fill="#000" opacity="0.09" filter="url(#bl2)"/>
<ellipse cx="185.5" cy="292.6" rx="6.0" ry="0.75" fill="#000" opacity="0.85" filter="url(#bl)"/>
<ellipse cx="199.1" cy="293.2" rx="6.0" ry="0.75" fill="#000" opacity="0.75" filter="url(#bl)"/>
<ellipse cx="211.9" cy="293.2" rx="6.0" ry="0.75" fill="#000" opacity="0.8" filter="url(#bl)"/>
<ellipse cx="225.9" cy="293.4" rx="6.0" ry="0.75" fill="#000" opacity="0.6" filter="url(#bl)"/>
<ellipse cx="239.1" cy="293.6" rx="6.0" ry="0.75" fill="#000" opacity="0.75" filter="url(#bl)"/>
<ellipse cx="252.5" cy="293.8" rx="6.0" ry="0.75" fill="#000" opacity="0.65" filter="url(#bl)"/>
<ellipse cx="265.9" cy="293.4" rx="6.0" ry="0.75" fill="#000" opacity="0.8" filter="url(#bl)"/>
<ellipse cx="279.5" cy="292.8" rx="6.0" ry="0.75" fill="#000" opacity="0.8" filter="url(#bl)"/>
<ellipse cx="292.1" cy="292.2" rx="6.0" ry="0.75" fill="#000" opacity="0.7" filter="url(#bl)"/>
<ellipse cx="304.5" cy="291.6" rx="6.0" ry="0.75" fill="#000" opacity="0.7" filter="url(#bl)"/>
</g>
</g>
</svg>
</body>
</html>
